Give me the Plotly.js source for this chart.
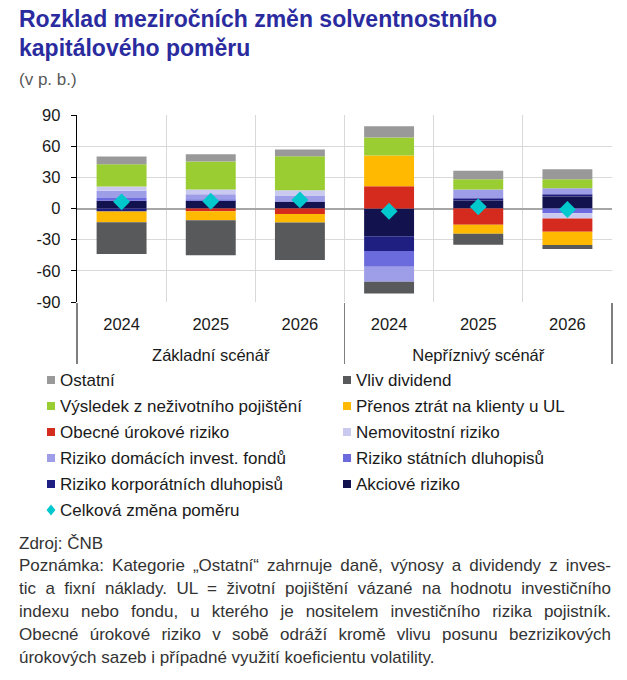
<!DOCTYPE html>
<html>
<head>
<meta charset="utf-8">
<script src="https://cdn.plot.ly/plotly-3.0.1.min.js"></script>
<style>
html,body{margin:0;padding:0;background:#fff;}
#chart{width:627px;height:680px;}
</style>
</head>
<body>
<div id="chart"></div>
<script>
// ---- data ----
const scenarios = ['Základní scénář','Základní scénář','Základní scénář','Nepříznivý scénář','Nepříznivý scénář','Nepříznivý scénář'];
const years = ['2024','2025','2026','2024','2025','2026'];

const akciove      = [7.4, 7.4, 6.4, -26.6, 7.7, 11.5];
const korporatni   = [-3.0, 0, 0, -14.4, 2.2, 2.2];
const statni       = [2.6, 1.6, 0.6, -15.1, 0, -4.5];
const fondy        = [7.0, 4.8, 5.4, -14.4, 8.3, 5.8];
const nemovitostni = [4.2, 4.5, 5.1, 0, 0, -5.1];
const obecne       = [0, -2.6, -5.4, 21.5, -15.7, -12.8];
const prenos       = [-10.3, -8.7, -8.0, 29.5, -8.7, -12.8];
const vysledek     = [21.5, 26.9, 32.7, 17.3, 9.9, 8.7];
const dividend     = [-30.5, -33.7, -36.2, -11.2, -10.6, -3.8];
const ostatni      = [7.4, 7.1, 6.7, 10.9, 8.3, 9.6];
const celkova      = [6.4, 7.0, 8.3, -2.6, 1.6, -1.0];

const yTicks = [-90, -60, -30, 0, 30, 60, 90];

// series in stacking order (from zero outward)
const series = [
  {name:'Akciové riziko', values:akciove, color:'#12124F'},
  {name:'Riziko korporátních dluhopisů', values:korporatni, color:'#1F1F82'},
  {name:'Riziko státních dluhopisů', values:statni, color:'#6B6BDE'},
  {name:'Riziko domácích invest. fondů', values:fondy, color:'#9D9DE8'},
  {name:'Nemovitostní riziko', values:nemovitostni, color:'#CACAF0'},
  {name:'Obecné úrokové riziko', values:obecne, color:'#D52B1E'},
  {name:'Přenos ztrát na klienty u UL', values:prenos, color:'#FFB900'},
  {name:'Výsledek z neživotního pojištění', values:vysledek, color:'#9ACD32'},
  {name:'Vliv dividend', values:dividend, color:'#58595B'},
  {name:'Ostatní', values:ostatni, color:'#999999'}
];
const totalName = 'Celková změna poměru';
const totalColor = '#00C8CC';

const FONT = 'Liberation Sans, Arial, sans-serif';
const W = 627, H = 680;
const M = {l:77, r:15, t:115, b:378};
const PW = W - M.l - M.r, PH = H - M.t - M.b;
const px2x = p => (p - M.l) / PW;
const py2y = p => (H - M.b - p) / PH;

// group labels are pushed one line lower so they sit below the year labels
const groupKeys = scenarios.map(s => '<br>' + s);

const traces = series.map(s => ({
  type:'bar', name:s.name,
  x:[groupKeys, years], y:s.values,
  marker:{color:s.color, line:{width:0}},
  hoverinfo:'name+y'
}));
traces.push({
  type:'scatter', mode:'markers', name:totalName,
  x:[groupKeys, years], y:celkova,
  marker:{symbol:'diamond', size:13, color:totalColor, line:{width:0}}
});

const annotations = [];
const shapes = [];
function addText(text, px, py, size, color, weight){
  annotations.push({text:text, xref:'paper', yref:'paper', x:px2x(px), y:py2y(py),
    xanchor:'left', yanchor:'middle', align:'left', showarrow:false,
    font:{family:FONT, size:size, color:color, weight:weight||400}});
}
addText('Rozklad meziročních změn solventnostního', 17, 19, 23, '#2B2BA0', 700);
addText('kapitálového poměru', 17, 48, 23, '#2B2BA0', 700);
addText('(v p. b.)', 17, 80, 17, '#595959');

// legend (order as displayed)
const legendOrder = ['Ostatní','Vliv dividend','Výsledek z neživotního pojištění','Přenos ztrát na klienty u UL',
  'Obecné úrokové riziko','Nemovitostní riziko','Riziko domácích invest. fondů','Riziko státních dluhopisů',
  'Riziko korporátních dluhopisů','Akciové riziko', totalName];
const colSq = [47, 343];
const colTx = [58, 354];
legendOrder.forEach((nm, i) => {
  const col = i % 2, row = Math.floor(i / 2);
  const cy = 380 + row * 26;
  if (nm === totalName) {
    const cx = colSq[col] + 4, r = 5.5;
    shapes.push({type:'path', xref:'paper', yref:'paper',
      path:`M ${px2x(cx)},${py2y(cy - r)} L ${px2x(cx + r*0.8)},${py2y(cy)} L ${px2x(cx)},${py2y(cy + r)} L ${px2x(cx - r*0.8)},${py2y(cy)} Z`,
      fillcolor:totalColor, line:{width:0}});
  } else {
    const s = series.find(q => q.name === nm);
    shapes.push({type:'rect', xref:'paper', yref:'paper',
      x0:px2x(colSq[col]), x1:px2x(colSq[col] + 8), y0:py2y(cy + 4), y1:py2y(cy - 4),
      fillcolor:s.color, line:{width:0}});
  }
  addText(nm, colTx[col], cy, 17, '#1a1a1a');
});

addText('Zdroj: ČNB', 17, 543, 17, '#333333');
const noteLines = [
  'Poznámka: Kategorie „Ostatní“ zahrnuje daně, výnosy a dividendy z inves-',
  'tic a fixní náklady. UL = životní pojištění vázané na hodnotu investičního',
  'indexu nebo fondu, u kterého je nositelem investičního rizika pojistník.',
  'Obecné úrokové riziko v sobě odráží kromě vlivu posunu bezrizikových',
  'úrokových sazeb i případné využití koeficientu volatility.'
];
const noteStart = annotations.length;
noteLines.forEach((t, i) => addText(t, 17, 565 + i * 23, 17, '#333333'));

const layout = {
  width:W, height:H, margin:M,
  paper_bgcolor:'#fff', plot_bgcolor:'#fff',
  barmode:'relative', bargap:0.44,
  showlegend:false,
  font:{family:FONT, size:16.5, color:'#1a1a1a'},
  xaxis:{type:'multicategory', showgrid:true, gridcolor:'#D9D9D9', gridwidth:1,
    tickson:'boundaries', ticks:'', ticklabelstandoff:10,
    showdividers:true, dividercolor:'#7F7F7F', dividerwidth:1.2,
    tickfont:{family:FONT, size:16.5, color:'#1a1a1a'},
    showline:false, zeroline:false, fixedrange:true},
  yaxis:{range:[-90, 90], tickvals:yTicks, ticktext:yTicks.map(String),
    showgrid:true, gridcolor:'#D9D9D9', gridwidth:1,
    zeroline:true, zerolinecolor:'#A6A6A6', zerolinewidth:2,
    showline:true, linecolor:'#000', linewidth:1.3,
    ticks:'outside', ticklen:5, tickcolor:'#000', tickwidth:1,
    ticklabelstandoff:7,
    tickfont:{family:FONT, size:16.5, color:'#1a1a1a'}, fixedrange:true},
  annotations:annotations, shapes:shapes
};

Plotly.newPlot('chart', traces, layout, {displayModeBar:false, staticPlot:true}).then(() => {
  // justify the note lines (except the last one) to the text block width
  const target = 609 - 17;
  const nodes = document.querySelectorAll('#chart .annotation');
  for (let i = 0; i < noteLines.length - 1; i++) {
    const g = nodes[noteStart + i];
    if (!g) continue;
    const t = g.querySelector('text');
    if (!t) continue;
    const w = t.getComputedTextLength();
    const spaces = (noteLines[i].match(/ /g) || []).length;
    if (spaces > 0 && w < target) {
      t.style.wordSpacing = ((target - w) / spaces).toFixed(2) + 'px';
    }
  }
});
</script>
</body>
</html>
